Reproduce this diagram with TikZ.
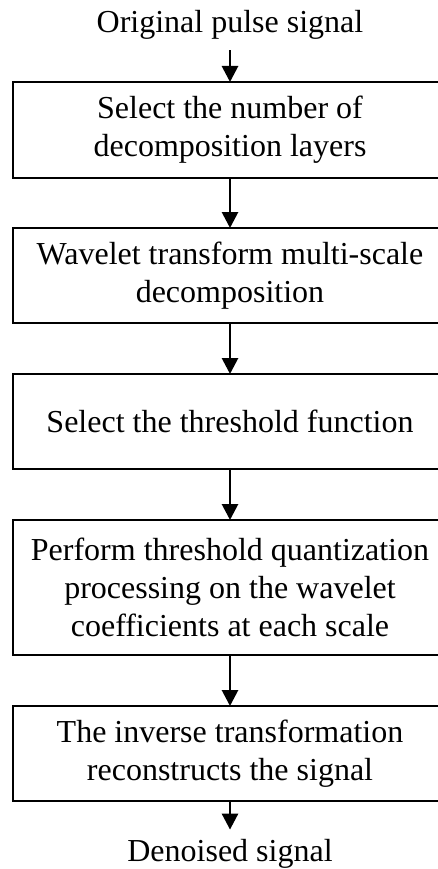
\documentclass[tikz,border=0pt]{standalone}
\usepackage{fontspec}
\setmainfont{Liberation Serif}
\usetikzlibrary{arrows.meta}
\begin{document}
\begin{tikzpicture}[x=1pt,y=1pt,
  stepbox/.style={draw=black, line width=2.9pt, minimum width=434pt, align=center,
    inner sep=0pt, outer sep=0pt, anchor=north, font=\fontsize{32}{38}\selectfont},
  term/.style={inner xsep=0pt, anchor=base, font=\fontsize{32}{38}\selectfont},
  arr/.style={line width=2.8pt, -{Triangle[length=16pt,width=16pt]}}]
\useasboundingbox (0,0) rectangle (437,-869);
\node[term, inner ysep=10pt] (in) at (230,-33) {Original pulse signal};
\node[stepbox, minimum height=96pt] (b1) at (230,-82) {Select the number of\\decomposition layers};
\node[stepbox, minimum height=95pt] (b2) at (230,-228) {Wavelet transform multi-scale\\decomposition};
\node[stepbox, minimum height=95pt] (b3) at (230,-374) {Select the threshold function};
\node[stepbox, minimum height=135pt] (b4) at (230,-520) {Perform threshold quantization\\processing on the wavelet\\coefficients at each scale};
\node[stepbox, minimum height=95pt] (b5) at (230,-706) {The inverse transformation\\reconstructs the signal};
\node[term, inner ysep=9pt] (out) at (230,-861) {Denoised signal};
\draw[arr] (in) -- (b1);
\draw[arr] (b1) -- (b2);
\draw[arr] (b2) -- (b3);
\draw[arr] (b3) -- (b4);
\draw[arr] (b4) -- (b5);
\draw[arr] (b5) -- (out);
\end{tikzpicture}
\end{document}
